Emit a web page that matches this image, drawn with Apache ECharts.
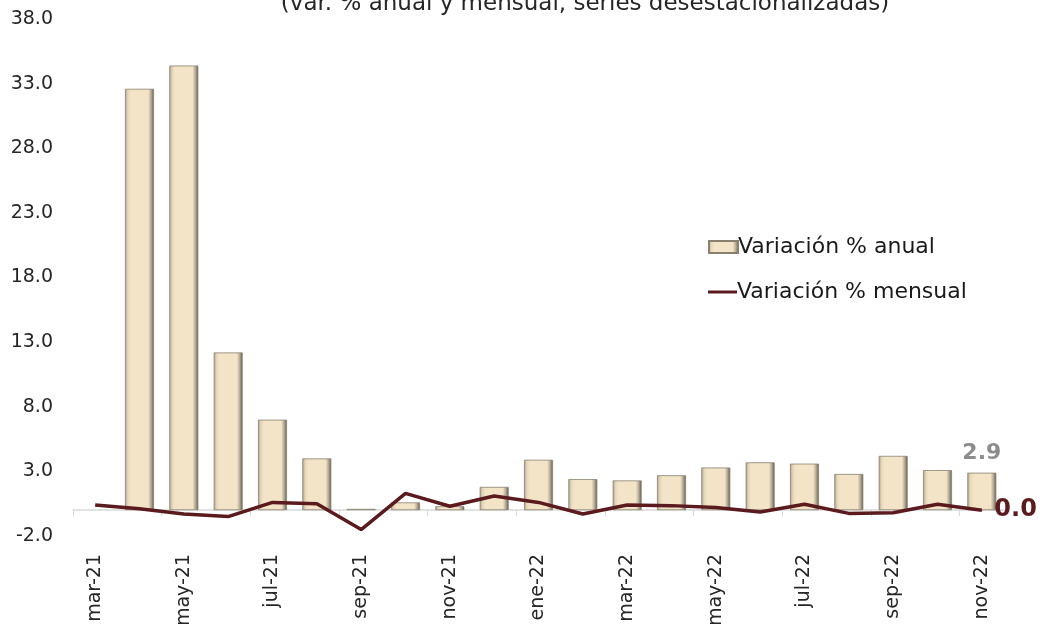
<!DOCTYPE html>
<html>
<head>
<meta charset="utf-8">
<script src="https://cdn.jsdelivr.net/npm/echarts@6/dist/echarts.min.js"></script>
<style>
html,body{margin:0;padding:0;background:#fff;}
#chart{width:1044px;height:624px;}
</style>
</head>
<body>
<div id="chart"></div>
<script>
var categories = ["mar-21","abr-21","may-21","jun-21","jul-21","ago-21","sep-21","oct-21","nov-21","dic-21","ene-22","feb-22","mar-22","abr-22","may-22","jun-22","jul-22","ago-22","sep-22","oct-22","nov-22"];
var anual = [null,32.6,34.4,12.2,7.0,4.0,0.1,0.6,0.3,1.8,3.9,2.4,2.3,2.7,3.3,3.7,3.6,2.8,4.2,3.1,2.9];
var mensual = [0.4,0.1,-0.3,-0.5,0.6,0.5,-1.5,1.3,0.3,1.1,0.6,-0.3,0.4,0.35,0.2,-0.15,0.45,-0.25,-0.2,0.45,0.0];
var titleText = "(var. % anual y mensual, series desestacionalizadas)";
var FONT = "DejaVu Sans";

var last = anual.length - 1;
var barData = anual.map(function(v, i){
  if (i === last) return {value: v, label: {show: true, position: 'top', distance: 8, formatter: function(p){return p.value.toFixed(1);}, color: '#8c8c8c', fontWeight: 'bold', fontSize: 22, fontFamily: FONT}};
  return v;
});
var lineData = mensual.map(function(v, i){
  if (i === last) return {value: v, symbol: 'circle', symbolSize: 1, label: {show: true, position: 'right', distance: 12, formatter: function(p){return p.value.toFixed(1);}, color: '#5a1a1e', fontWeight: 'bold', fontSize: 24, fontFamily: FONT}};
  return v;
});

var barGrad = new echarts.graphic.LinearGradient(0,0,1,0,[
  {offset:0, color:'#a89f8e'},
  {offset:0.1, color:'#e6d7bb'},
  {offset:0.2, color:'#f3e4c8'},
  {offset:0.8, color:'#f3e4c8'},
  {offset:0.9, color:'#b5aa96'},
  {offset:1, color:'#5e564a'}
]);

var legendText = {fontFamily: FONT, fontSize: 22, color: '#1a1a1a', padding: [0,0,0,-5]};

var chart = echarts.init(document.getElementById('chart'));
chart.setOption({
  animation: false,
  backgroundColor: '#ffffff',
  title: {
    text: titleText, left: 580, textAlign: 'center', top: -12,
    textStyle: {fontFamily: FONT, fontSize: 23, fontWeight: 'normal', color: '#262626'}
  },
  legend: [
    {
      left: 708, top: 236, padding: 0, itemWidth: 29, itemHeight: 12,
      textStyle: legendText,
      data: [{name: 'Variación % anual', icon: 'rect'}]
    },
    {
      left: 708, top: 281, padding: 0, itemWidth: 29, itemHeight: 3,
      textStyle: legendText,
      data: [{name: 'Variación % mensual', icon: 'rect', itemStyle: {color: '#5a1a1e'}}]
    }
  ],
  grid: {left: 73, right: 40, top: 19, bottom: 88, containLabel: false, outerBoundsMode: 'none'},
  xAxis: {
    type: 'category', data: categories, boundaryGap: true,
    axisLine: {onZero: true, lineStyle: {color: '#d9d9d9', width: 1.5}},
    axisTick: {show: true, interval: 1, alignWithLabel: false, length: 6, lineStyle: {color: '#d9d9d9'}},
    axisLabel: {interval: 1, rotate: 90, margin: 18, fontFamily: FONT, fontSize: 19, color: '#262626'},
    splitLine: {show: false}
  },
  yAxis: {
    type: 'value', min: -2, max: 38, interval: 5,
    axisLine: {show: false}, axisTick: {show: false}, splitLine: {show: false},
    axisLabel: {formatter: function(v){return v.toFixed(1);}, fontFamily: FONT, fontSize: 19, color: '#262626', margin: 20}
  },
  series: [
    {
      name: 'Variación % anual', type: 'bar', data: barData, barWidth: 29,
      itemStyle: {color: barGrad, borderColor: '#8a8070', borderWidth: 0.8}
    },
    {
      name: 'Variación % mensual', type: 'line', data: lineData, symbol: 'none',
      lineStyle: {color: '#5a1a1e', width: 3.5}, itemStyle: {color: '#5a1a1e'}
    }
  ]
});
</script>
</body>
</html>
